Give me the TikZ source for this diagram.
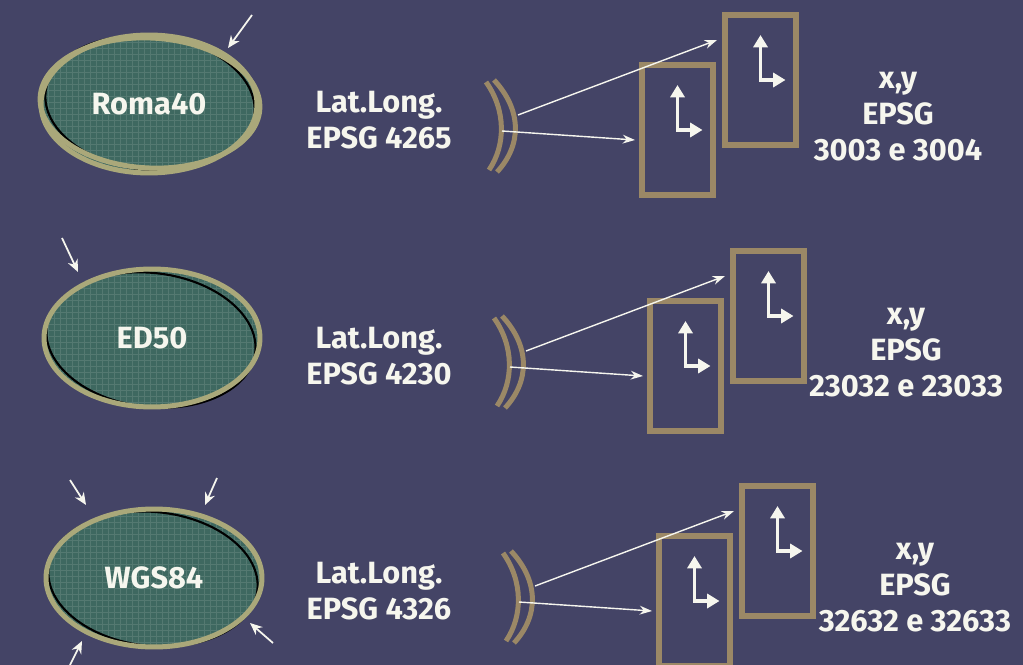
\documentclass[tikz,border=0pt]{standalone}
\usepackage{fontspec}
\setmainfont{Fira Sans}
\usetikzlibrary{arrows.meta,positioning}
\definecolor{sfondo}{RGB}{68,68,102}
\definecolor{verde}{RGB}{62,104,96}
\definecolor{cachi}{RGB}{170,168,122}
\definecolor{sabbia}{RGB}{155,136,102}
\definecolor{crema}{RGB}{246,246,238}
\tikzset{
  testo/.style={text=crema,align=center,font=\bfseries\fontsize{17.5}{20.4}\selectfont},
  rettangolo/.style={draw=sabbia,line width=0.12cm,minimum width=1.42cm,minimum height=2.6cm,inner sep=0pt},
  lente/.style={draw=sabbia,line width=0.1cm},
  raggio/.style={draw=crema,line width=0.8pt,-{Stealth[length=7pt,width=5pt]}},
  assi/.style={draw=crema,line width=1.8pt,{Triangle[length=7pt,width=8pt]}-{Triangle[length=7pt,width=8pt]}},
  freccina/.style={draw=crema,line width=1pt,-{Stealth[length=7pt,width=6pt]}},
  bordo/.style={draw=cachi,line width=0.1cm},
  contorno/.style={draw=black,line width=1.2pt},
  griglia/.style={draw=crema,opacity=0.12,line width=0.3pt}
}
\begin{document}
\begin{tikzpicture}[x=0.02cm,y=-0.02cm]
\fill[sfondo] (0,0) rectangle (1023,665);
\useasboundingbox (0,0) rectangle (1023,665);

% ellissoidi
\foreach \cx/\cy/\rot/\bx/\by/\n/\e in {149/104/-6/150/103/Roma40/roma, 152/338/-7/151/340/ED50/ed, 154/578/-6/153/579/WGS84/wgs}{
  \fill[verde] (\cx,\cy) ellipse [x radius=2.16cm,y radius=1.38cm];
  \begin{scope}
    \clip (\cx,\cy) ellipse [x radius=2.16cm,y radius=1.38cm];
    \draw[griglia,step=0.12cm] ({\cx-115},{\cy-75}) grid ({\cx+115},{\cy+75});
  \end{scope}
  \draw[contorno] (\bx,\by) ellipse [x radius=2.1cm,y radius=1.34cm,rotate=\rot];
  \draw[bordo] (\cx,\cy) ellipse [x radius=2.16cm,y radius=1.38cm];
  \node[testo] (\e) at (\cx,\cy) {\n};
}
\draw[bordo] (150,103) ellipse [x radius=2.2cm,y radius=1.3cm,rotate=-3];

% frecce sugli ellissoidi
\coordinate (a1) at (252,15);  \coordinate (b1) at (228,48);
\coordinate (a2) at (62,238);  \coordinate (b2) at (78,272);
\coordinate (a3) at (70,480);  \coordinate (b3) at (86,505);
\coordinate (a4) at (217,478); \coordinate (b4) at (205,505);
\coordinate (a5) at (273,643); \coordinate (b5) at (250,623);
\coordinate (a6) at (70,665);  \coordinate (b6) at (82,641);
\foreach \k in {1,...,6}
  \draw[freccina] (a\k) -- (b\k);

% proiezioni
\foreach \dx/\dy/\ll/\xy [count=\i] in {0/0/4265/{3003 e 3004}, 8/236/4230/{23032 e 23033}, 17/471/4326/{32632 e 32633}}{
  \node[testo] (ll\i) at (379,{120+\dy}) {Lat.Long.\\EPSG \ll};
  \begin{scope}[shift={(\dx,\dy)}]
    \draw[lente] (486,82) .. controls (506,110) and (506,145) .. (489,170);
    \draw[lente] (494,80) .. controls (522,110) and (522,145) .. (497,172);
    \coordinate (lsA\i) at (518,115);
    \coordinate (lsB\i) at (502,131);
    \node[rettangolo] (ra\i) at (677.5,130) {};
    \node[rettangolo] (rb\i) at (760.5,80) {};
    \draw[assi] ([yshift=0.9cm]ra\i.center) |- ([xshift=0.5cm]ra\i.center);
    \draw[assi] ([yshift=0.9cm]rb\i.center) |- ([xshift=0.5cm]rb\i.center);
    \draw[raggio] (lsA\i) -- ([xshift=-0.1cm,yshift=0.8cm]rb\i.west);
    \draw[raggio] (lsB\i) -- ([xshift=-0.08cm,yshift=-0.2cm]ra\i.west);
    \node[testo] (xy\i) at (898,116.5) {x,y\\EPSG\\\xy};
  \end{scope}
}
\end{tikzpicture}
\end{document}
